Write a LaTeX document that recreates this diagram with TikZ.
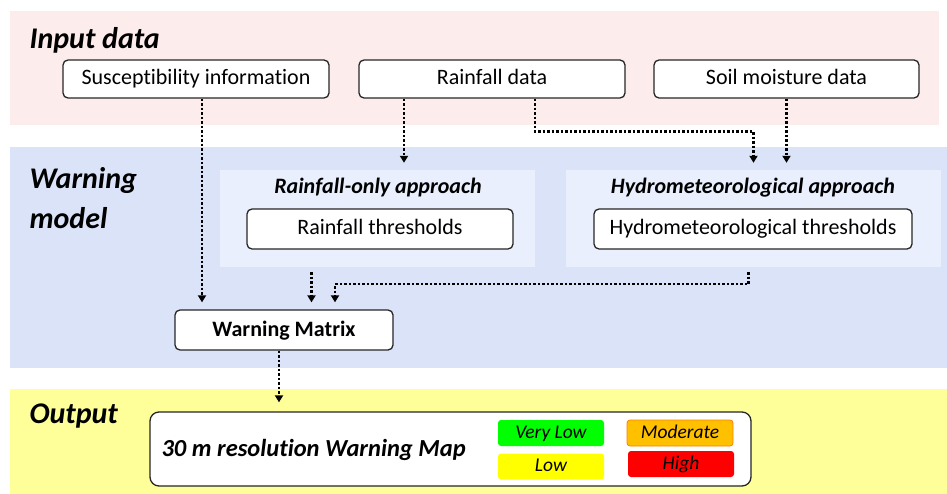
\documentclass[tikz,border=0pt]{standalone}
\usepackage{fontspec}
\setmainfont[Ligatures=NoCommon]{Carlito}
\usetikzlibrary{arrows.meta,calc}

\definecolor{inpink}{RGB}{253,236,236}
\definecolor{modelblue}{RGB}{218,227,248}
\definecolor{panelblue}{RGB}{233,239,252}
\definecolor{outyellow}{RGB}{255,255,153}
\definecolor{vlowgreen}{RGB}{0,255,0}
\definecolor{lowyellow}{RGB}{255,255,0}
\definecolor{modorange}{RGB}{255,192,0}
\definecolor{highred}{RGB}{255,0,0}

\tikzset{
    box/.style={draw=black!85, rounded corners=5pt, fill=white, line width=1.3pt, inner sep=0pt,
        minimum height=38pt, text height=16pt, text depth=4pt, font=\fontsize{22}{26}\selectfont},
    panel/.style={fill=panelblue, inner sep=0pt},
    paneltitle/.style={font=\fontsize{22}{26}\selectfont\bfseries\itshape},
    bandlabel/.style={anchor=west, align=left, font=\fontsize{30}{40}\selectfont\bfseries\itshape},
    level/.style={rounded corners=3pt, inner sep=0pt, minimum width=106pt, minimum height=26pt,
        text height=14pt, text depth=4pt, font=\fontsize{19.5}{22}\selectfont\itshape},
    flow/.style={line width=2.5pt, dash pattern=on 2.5pt off 2pt, -{Triangle[width=8pt,length=7pt]}}
}

\begin{document}
\begin{tikzpicture}[x=1pt, y=-1pt]
    \useasboundingbox (0,0) rectangle (947,494);

    % bands
    \fill[inpink] (10,11) rectangle (939,125);
    \fill[modelblue] (10,147) rectangle (947,368);
    \fill[outyellow] (10,389) rectangle (947,494);

    \node[bandlabel] (inlabel) at (26,40) {Input data};
    \node[bandlabel] (modlabel) at (26,198) {Warning\\model};
    \node[bandlabel] (outlabel) at (26,416) {Output};

    % input data
    \node[box, minimum width=266pt] (susc) at (196,79) {Susceptibility information};
    \node[box, minimum width=266pt] (rain) at (492,79) {Rainfall data};
    \node[box, minimum width=265pt] (soil) at (786.5,79) {Soil moisture data};

    % warning model
    \node[panel, minimum width=315pt, minimum height=97pt] (rfpanel) at (377.5,218.5) {};
    \node[panel, minimum width=375pt, minimum height=97pt] (hypanel) at (753.5,218.5) {};
    \node[paneltitle] (rftitle) at (378,188) {Rainfall-only approach};
    \node[paneltitle] (hytitle) at (753,188) {Hydrometeorological approach};
    \node[box, minimum width=266pt, minimum height=40pt] (rfthr) at (380,229) {Rainfall thresholds};
    \node[box, minimum width=318pt, minimum height=40pt] (hythr) at (753,229) {Hydrometeorological thresholds};
    \node[box, minimum width=218pt, minimum height=40pt, font=\fontsize{22}{26}\selectfont\bfseries] (wm) at (284,330) {Warning Matrix};

    % output
    \node[box, minimum width=601pt, minimum height=74pt, rounded corners=9pt] (out) at (450.5,449) {};
    \node[anchor=west, font=\fontsize{24.5}{28}\selectfont\bfseries\itshape] (outtext) at (158,450) {30 m resolution Warning Map};
    \node[level, fill=vlowgreen] (vlow) at (551,433) {Very Low};
    \node[level, fill=lowyellow] (low) at (551,466.5) {Low};
    \node[level, fill=modorange, draw=orange, line width=0.8pt] (mod) at (680,433) {Moderate};
    \node[level, fill=highred] (high) at (681,464) {High};

    % connectors
    \coordinate (s1) at ($(susc.south)+(6,0)$);
    \coordinate (r1) at ($(rain.south)+(-88,0)$);
    \coordinate (r2) at ($(rain.south)+(43,0)$);
    \coordinate (p1) at ($(rfpanel.south)+(-66,0)$);
    \coordinate (p2) at ($(hypanel.south)+(-5,0)$);
    \coordinate (m1) at ($(wm.south)+(-5,0)$);

    \draw[flow, shorten >=7pt] (s1) -- (s1 |- wm.north);
    \draw[flow, shorten >=7pt] (r1) -- (r1 |- rfpanel.north);
    \draw[flow, shorten >=7pt] (r2) -- ++(0,33) -| (hypanel.north);
    \draw[flow, shorten >=7pt] (soil.south) -- (soil.south |- hypanel.north);
    \draw[flow, shorten <=5pt, shorten >=7pt] (p1) -- (p1 |- wm.north);
    \draw[flow, shorten <=5pt, shorten >=7pt] (p2) -- ++(0,17) -| ($(wm.north)+(51,0)$);
    \draw[flow, shorten >=9pt] (m1) -- (m1 |- out.north);
\end{tikzpicture}
\end{document}
